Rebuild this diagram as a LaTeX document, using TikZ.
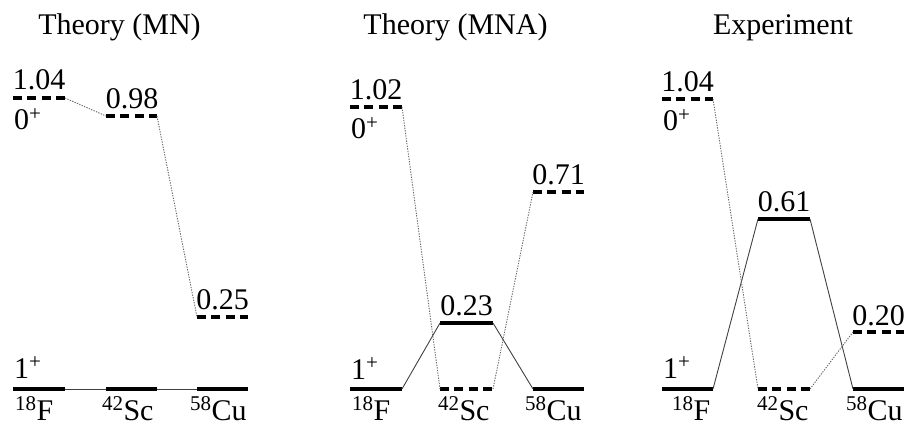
\documentclass[tikz,border=0pt]{standalone}
\usepackage{fontspec}
\setmainfont{Liberation Serif}
\begin{document}
\begin{tikzpicture}[x=1pt,y=-1pt,
  every node/.style={inner sep=0pt,outer sep=0pt,font=\fontsize{30}{34}\selectfont},
  lvl/.style={line width=4pt,line cap=butt},
  dlvl/.style={line width=4pt,line cap=butt,dash pattern=on 9pt off 5.33pt},
  conn/.style={line width=0.9pt,black!75},
  dconn/.style={line width=0.9pt,black!60,dash pattern=on 1.3pt off 1.3pt},
  lbl/.style={anchor=base},
  lbll/.style={anchor=base west},
  iso/.style={anchor=base west}]
\useasboundingbox (0,0) rectangle (904,427);
% ---------- Panel 1: Theory (MN)
\node[lbl] (t1) at (119.5,35) {Theory (MN)};
\coordinate (a1l) at (13,98);  \coordinate (a1r) at (65,98);
\coordinate (a2l) at (106,116); \coordinate (a2r) at (157,116);
\coordinate (a3l) at (197,317); \coordinate (a3r) at (248,317);
\coordinate (g1l) at (13,389); \coordinate (g1r) at (65,389);
\coordinate (g2l) at (106,389); \coordinate (g2r) at (157,389);
\coordinate (g3l) at (197,389); \coordinate (g3r) at (248,389);
\draw[dlvl] (a1l) -- (a1r);
\draw[dlvl] (a2l) -- (a2r);
\draw[dlvl] (a3l) -- (a3r);
\draw[lvl] (g1l) -- (g1r);
\draw[lvl] (g2l) -- (g2r);
\draw[lvl] (g3l) -- (g3r);
\draw[dconn] (a1r) -- (a2l);
\draw[dconn] (a2r) -- (a3l);
\draw[conn] (g1r) -- (g2l);
\draw[conn] (g2r) -- (g3l);
\node[lbl] (n104a) at (39,90) {1.04};
\node[lbll] (z1) at (14,130) {0\textsuperscript{+}};
\node[lbl] (n098) at (132,109) {0.98};
\node[lbl] (n025) at (222.5,309) {0.25};
\node[lbll] (o1) at (14,378) {1\textsuperscript{+}};
\node[iso] (i1a) at (15,420) {\textsuperscript{18}F};
\node[iso] (i1b) at (102,420) {\textsuperscript{42}Sc};
\node[iso] (i1c) at (190,420) {\textsuperscript{58}Cu};
% ---------- Panel 2: Theory (MNA)
\node[lbl] (t2) at (455.5,35) {Theory (MNA)};
\coordinate (b1l) at (350,107); \coordinate (b1r) at (402,107);
\coordinate (b2l) at (440,323); \coordinate (b2r) at (493,323);
\coordinate (b3l) at (533,192); \coordinate (b3r) at (584,192);
\coordinate (h1l) at (350,389); \coordinate (h1r) at (402,389);
\coordinate (h2l) at (440,389); \coordinate (h2r) at (493,389);
\coordinate (h3l) at (533,389); \coordinate (h3r) at (584,389);
\draw[dlvl] (b1l) -- (b1r);
\draw[lvl] (b2l) -- (b2r);
\draw[dlvl] (b3l) -- (b3r);
\draw[lvl] (h1l) -- (h1r);
\draw[dlvl] (h2l) -- (h2r);
\draw[lvl] (h3l) -- (h3r);
\draw[conn] (h1r) -- (b2l);
\draw[conn] (b2r) -- (h3l);
\draw[dconn] (b1r) -- (h2l);
\draw[dconn] (h2r) -- (b3l);
\node[lbl] (n102) at (376,100) {1.02};
\node[lbll] (z2) at (351,139) {0\textsuperscript{+}};
\node[lbl] (n023) at (466.5,316) {0.23};
\node[lbl] (n071) at (558.5,185) {0.71};
\node[lbll] (o2) at (351,379) {1\textsuperscript{+}};
\node[iso] (i2a) at (352,420) {\textsuperscript{18}F};
\node[iso] (i2b) at (438,420) {\textsuperscript{42}Sc};
\node[iso] (i2c) at (525,420) {\textsuperscript{58}Cu};
% ---------- Panel 3: Experiment
\node[lbl] (t3) at (783,35) {Experiment};
\coordinate (c1l) at (662,99); \coordinate (c1r) at (713,99);
\coordinate (c2l) at (758,219); \coordinate (c2r) at (810,219);
\coordinate (c3l) at (853,332); \coordinate (c3r) at (905,332);
\coordinate (k1l) at (662,389); \coordinate (k1r) at (713,389);
\coordinate (k2l) at (758,389); \coordinate (k2r) at (810,389);
\coordinate (k3l) at (853,389); \coordinate (k3r) at (905,389);
\draw[dlvl] (c1l) -- (c1r);
\draw[lvl] (c2l) -- (c2r);
\draw[dlvl] (c3l) -- (c3r);
\draw[lvl] (k1l) -- (k1r);
\draw[dlvl] (k2l) -- (k2r);
\draw[lvl] (k3l) -- (k3r);
\draw[conn] (k1r) -- (c2l);
\draw[conn] (c2r) -- (k3l);
\draw[dconn] (c1r) -- (k2l);
\draw[dconn] (k2r) -- (c3l);
\node[lbl] (n104b) at (687.5,92) {1.04};
\node[lbll] (z3) at (663,131) {0\textsuperscript{+}};
\node[lbl] (n061) at (784,212) {0.61};
\node[lbl] (n020) at (878.5,325) {0.20};
\node[lbll] (o3) at (663,378) {1\textsuperscript{+}};
\node[iso] (i3a) at (672,420) {\textsuperscript{18}F};
\node[iso] (i3b) at (757,420) {\textsuperscript{42}Sc};
\node[iso] (i3c) at (846,420) {\textsuperscript{58}Cu};
\end{tikzpicture}
\end{document}
